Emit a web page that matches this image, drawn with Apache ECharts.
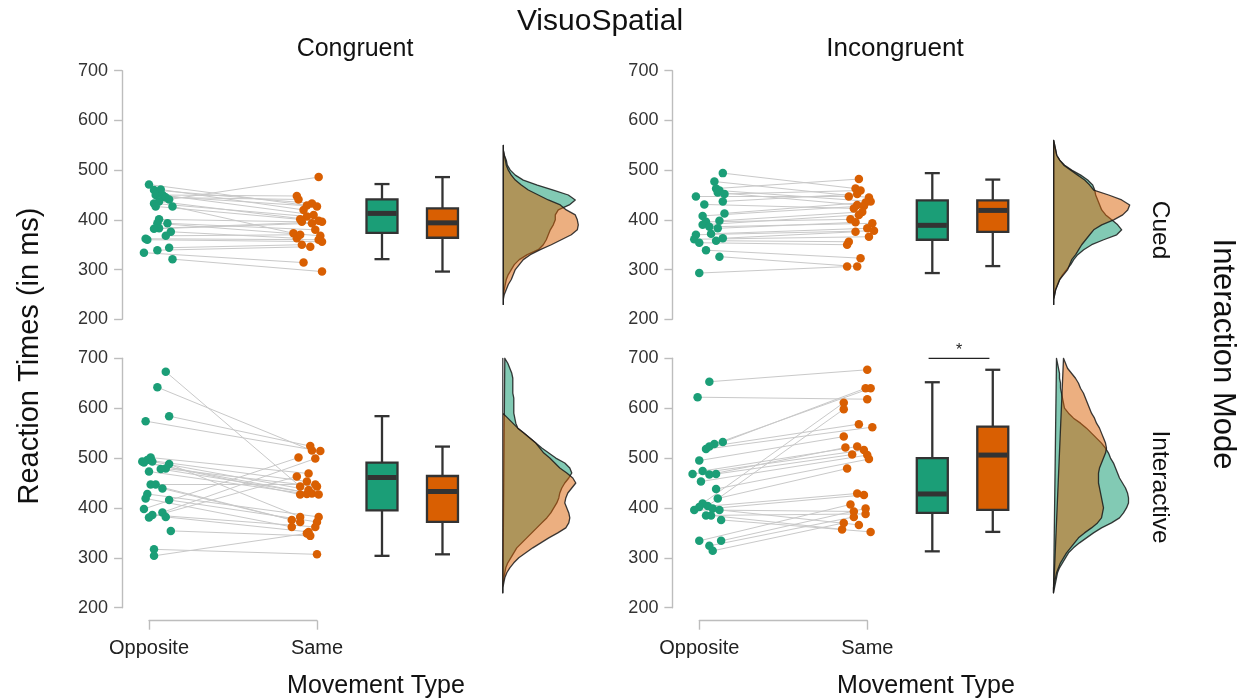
<!DOCTYPE html>
<html><head><meta charset="utf-8">
<script src="https://cdn.jsdelivr.net/npm/echarts/dist/echarts.min.js"></script>
<style>html,body{margin:0;padding:0;background:#fff}#c{width:1246px;height:699px}</style>
</head><body><div id="c"></div>
<script>
// ---------- DATA ----------
const categories = ['Opposite', 'Same'];
const conditions = ['Congruent', 'Incongruent'];
const modes = ['Cued', 'Interactive'];

// Congruent / Cued (paired: index k = same participant)
const ccOppRT = [471,461,460,450,450,447,445,441,437,433,427,427,401,393,393,383,382,376,368,362,360,344,339,334,321];
const ccOppX  = [1.00,1.07,1.03,1.04,1.08,1.09,1.10,1.12,1.06,1.03,1.04,1.14,1.06,1.05,1.11,1.06,1.03,1.13,1.10,0.98,0.99,1.12,1.05,0.97,1.14];
const ccSameRT = [429,420,433,448,410,427,441,486,398,407,401,373,396,368,380,396,393,363,370,360,356,350,346,314,296];
const ccSameX  = [1.94,1.92,1.97,1.88,1.98,2.00,1.89,2.01,2.01,1.94,1.90,1.86,1.91,2.02,1.99,2.03,1.97,1.88,1.90,2.01,2.03,1.91,1.96,1.92,2.03];

// Incongruent / Cued
const icOppRT = [494,477,463,459,455,452,447,437,431,413,408,398,396,390,386,383,372,370,363,361,358,354,339,326,293];
const icOppX  = [1.14,1.09,1.10,1.12,1.11,1.15,0.98,1.14,1.03,1.15,1.02,1.12,1.04,1.02,1.06,1.11,1.07,0.98,1.14,0.97,1.10,1.00,1.04,1.12,1.00];
const icSameRT = [463,445,482,437,430,459,447,452,423,435,428,416,401,410,393,395,383,378,376,366,356,350,323,306,306];
const icSameX  = [1.93,2.01,1.95,2.02,1.94,1.96,1.89,1.94,1.92,1.99,1.98,1.97,1.90,1.95,2.03,1.93,2.00,2.04,1.93,2.01,1.89,1.88,1.96,1.94,1.88];

// Congruent / Interactive
const ciOppRT = [673,642,584,574,501,496,493,493,491,488,479,478,473,447,447,439,428,419,416,398,391,386,382,381,354,317,304];
const ciOppX  = [1.10,1.05,1.12,0.98,1.01,0.99,1.02,0.96,0.97,1.12,1.10,1.07,1.00,1.01,1.04,1.08,0.99,0.98,1.12,0.97,1.08,1.02,1.10,1.00,1.13,1.03,1.03];
const ciSameRT = [443,515,524,514,469,453,436,427,429,382,443,427,428,372,447,376,382,362,372,501,499,362,352,463,344,307,349];
const ciSameX  = [1.90,1.97,1.96,2.02,1.95,1.94,1.95,1.90,1.97,1.90,2.00,2.01,1.94,1.90,1.99,1.85,2.01,1.85,2.00,1.89,1.99,1.99,1.95,1.88,1.96,2.00,1.94];

// Incongruent / Interactive
const iiOppRT = [653,622,532,528,523,518,495,474,468,467,468,453,438,419,409,404,402,399,396,396,385,385,376,334,334,324,314];
const iiOppX  = [1.06,0.99,1.14,1.09,1.06,1.04,1.00,1.02,0.96,1.06,1.10,1.01,1.10,1.11,1.02,1.05,1.00,1.08,0.97,1.12,1.04,1.07,1.13,1.00,1.13,1.06,1.08];
const iiSameRT = [677,618,640,640,568,562,543,523,516,521,507,506,498,479,611,598,429,426,393,366,388,357,352,407,399,382,370];
const iiSameX  = [2.00,2.00,1.99,2.02,1.95,2.03,1.86,1.94,1.98,1.87,1.91,2.00,2.01,1.88,1.86,1.86,1.94,1.98,1.92,1.95,1.99,1.85,2.02,1.90,1.99,1.92,1.86];

// Box statistics [min, Q1, median, Q3, max]
const ccBoxOpp = [321,374,413,441,472], ccBoxSame = [296,364,394,423,486];
const icBoxOpp = [293,360,389,439,494], icBoxSame = [307,376,419,439,481];
const ciBoxOpp = [304,395,461,491,584], ciBoxSame = [307,372,433,464,523];
const iiBoxOpp = [313,390,428,500,652], iiBoxSame = [352,396,506,563,677];

// Density profiles (relative density at each RT level)
const ccDensRT   = [230,240,250,260,270,280,290,300,310,320,330,340,350,360,370,380,390,400,410,420,430,440,450,460,470,480,490,500,510,520,530,540,550];
const ccDensOpp  = [0,0,0,1,2,3,5,8,11,16,24,35,40,43,45,47,50,52,52,55,66,72,65,50,34,20,12,7,4,3,1,0,0];
const ccDensSame = [0,0,1,3,5,8,10,12,16,20,27,37,48,58,68,74,75,74,72,63,57,45,35,25,18,12,8,5,3,2,1,0,0];

const icDensRT   = [230,240,250,260,270,280,290,300,310,320,330,340,350,360,370,380,390,400,410,420,430,440,450,460,470,480,490,500,510,520,530,540,550,560];
const icDensOpp  = [0,0,1,2,4,6,9,13,17,20,24,30,38,50,63,68,64,58,52,48,46,44,42,41,39,34,27,18,11,6,3,2,1,0];
const icDensSame = [0,0,1,2,4,6,10,14,16,18,22,25,28,32,36,40,48,60,69,74,76,68,55,40,36,31,24,17,10,6,3,2,1,0];

const ciDensRT   = [230,240,250,260,270,280,290,300,310,320,330,340,350,360,370,380,390,400,410,420,430,440,450,460,470,480,490,500,510,520,530,540,550,560,570,580,590,600,610,620,630,640,650,660,670,680,690,700];
const ciDensOpp  = [0,0,0,1,2,3,5,8,11,14,19,24,29,34,39,44,48,51,54,56,57,59,62,66,69,67,62,53,46,39,33,27,21,15,13,12,11,11,11,11,10,10,10,10,9,7,5,2];
const ciDensSame = [0,0,1,2,4,7,11,16,23,30,38,46,55,63,66,67,66,64,62,63,65,69,73,70,64,57,52,47,41,37,33,27,21,15,10,5,0,0,0,0,0,0,0,0,0,0,0,0];

const iiDensRT   = [230,240,250,260,270,280,290,300,310,320,330,340,350,360,370,380,390,400,410,420,430,440,450,460,470,480,490,500,510,520,530,540,550,560,570,580,590,600,610,620,630,640,650,660,670,680,690,700];
const iiDensOpp  = [0,1,2,3,4,6,9,12,15,20,26,33,40,48,58,66,70,73,75,75,74,72,69,66,64,62,60,57,55,52,48,43,38,33,27,20,15,11,10,9,8,7,7,6,6,5,4,3];
const iiDensSame = [0,0,1,2,3,5,7,10,13,17,21,25,31,38,44,48,49,50,49,48,47,46,45,45,45,46,48,50,52,53,52,50,48,46,43,41,38,36,34,32,30,27,25,22,18,14,12,10];

const yTicks = [200,300,400,500,600,700];

// ---------- CHART ----------
const GREEN = '#1b9e77', ORANGE = '#d95f02';
const FONT = 'Liberation Sans, Arial, Helvetica, sans-serif';
const AXIS_GRAY = '#bdbdbd';
const X_MIN = 0.84, X_MAX = 3.0, PX_PER_UNIT = 168;
const BOX_POS = [2.387, 2.747];

const panels = [
  {opp:ccOppRT, oppX:ccOppX, same:ccSameRT, sameX:ccSameX, boxOpp:ccBoxOpp, boxSame:ccBoxSame, dRT:ccDensRT, dOpp:ccDensOpp, dSame:ccDensSame,
   left:122.1, top:70.7, height:248.6, dleft:503.3},
  {opp:icOppRT, oppX:icOppX, same:icSameRT, sameX:icSameX, boxOpp:icBoxOpp, boxSame:icBoxSame, dRT:icDensRT, dOpp:icDensOpp, dSame:icDensSame,
   left:672.4, top:70.7, height:248.6, dleft:1053.7},
  {opp:ciOppRT, oppX:ciOppX, same:ciSameRT, sameX:ciSameX, boxOpp:ciBoxOpp, boxSame:ciBoxSame, dRT:ciDensRT, dOpp:ciDensOpp, dSame:ciDensSame,
   left:122.1, top:358.3, height:249.4, dleft:502.8},
  {opp:iiOppRT, oppX:iiOppX, same:iiSameRT, sameX:iiSameX, boxOpp:iiBoxOpp, boxSame:iiBoxSame, dRT:iiDensRT, dOpp:iiDensOpp, dSame:iiDensSame,
   left:672.4, top:358.3, height:249.4, dleft:1053.5}
];

const grid = [], xAxis = [], yAxis = [], series = [];

panels.forEach((p, i) => {
  grid.push({left:p.left, top:p.top, width:(X_MAX - X_MIN) * PX_PER_UNIT, height:p.height, outerBoundsMode:'none', containLabel:false});
  xAxis.push({gridIndex:i, type:'value', min:X_MIN, max:X_MAX, show:false});
  yAxis.push({gridIndex:i, type:'value', min:yTicks[0], max:yTicks[yTicks.length-1], interval:100,
    axisLine:{show:true, lineStyle:{color:AXIS_GRAY, width:1.4}},
    axisTick:{show:true, length:8, lineStyle:{color:AXIS_GRAY, width:1.4}},
    axisLabel:{color:'#333', fontSize:18, fontFamily:FONT, margin:14},
    splitLine:{show:false}});
});
panels.forEach((p, i) => {
  grid.push({left:p.dleft, top:p.top, width:100, height:p.height, outerBoundsMode:'none', containLabel:false});
  xAxis.push({gridIndex:4+i, type:'value', min:0, max:100, show:false});
  yAxis.push({gridIndex:4+i, type:'value', min:200, max:700, show:false});
});
// bottom category axes (brackets)
[[149, 8], [699.3, 9]].forEach(([l, gi]) => {
  grid.push({left:l, top:600, width:168, height:20.7, outerBoundsMode:'none', containLabel:false});
  xAxis.push({gridIndex:gi, type:'category', data:categories, boundaryGap:false,
    axisLine:{show:true, lineStyle:{color:AXIS_GRAY, width:1.4}},
    axisTick:{show:true, length:9, inside:false, lineStyle:{color:AXIS_GRAY, width:1.4}},
    axisLabel:{color:'#222', fontSize:20, fontFamily:FONT, margin:18, interval:0},
    splitLine:{show:false}});
  yAxis.push({gridIndex:gi, type:'value', show:false});
});

function boxRender(params, api) {
  const x = api.value(0);
  const c = v => api.coord([x, v]);
  const pMin = c(api.value(1)), pQ1 = c(api.value(2)), pMed = c(api.value(3)), pQ3 = c(api.value(4)), pMax = c(api.value(5));
  const cx = pMin[0], hw = 15.5, cap = 7.5;
  const col = params.dataIndex === 0 ? GREEN : ORANGE;
  const st = {stroke:'#333', lineWidth:2.3};
  return {type:'group', children:[
    {type:'line', shape:{x1:cx, y1:pMax[1], x2:cx, y2:pQ3[1]}, style:st},
    {type:'line', shape:{x1:cx, y1:pQ1[1], x2:cx, y2:pMin[1]}, style:st},
    {type:'line', shape:{x1:cx-cap, y1:pMax[1], x2:cx+cap, y2:pMax[1]}, style:st},
    {type:'line', shape:{x1:cx-cap, y1:pMin[1], x2:cx+cap, y2:pMin[1]}, style:st},
    {type:'rect', shape:{x:cx-hw, y:pQ3[1], width:2*hw, height:pQ1[1]-pQ3[1]}, style:{fill:col, stroke:'#333', lineWidth:2.3}},
    {type:'line', shape:{x1:cx-hw+1, y1:pMed[1], x2:cx+hw-1, y2:pMed[1]}, style:{stroke:'#333', lineWidth:5}}
  ]};
}

function densitySeries(gi, rt, dens, fill, z) {
  return {type:'custom', coordinateSystem:'cartesian2d', xAxisIndex:gi, yAxisIndex:gi, z:z, silent:true,
    data: rt.map((v, k) => [dens[k], v]), encode:{x:0, y:1},
    renderItem: (params, api) => {
      if (params.dataIndex !== 0) return null;
      const pts = rt.map((v, k) => api.coord([dens[k], v]));
      return {type:'polygon', shape:{points:pts}, style:{fill:fill, stroke:'rgba(25,25,25,0.85)', lineWidth:1.3, lineJoin:'round'}};
    }};
}

panels.forEach((p, i) => {
  series.push({type:'custom', coordinateSystem:'cartesian2d', xAxisIndex:i, yAxisIndex:i, z:1, silent:true,
    data: p.opp.map((v, k) => [p.oppX[k], v, p.sameX[k], p.same[k]]), encode:{x:[0,2], y:[1,3]},
    renderItem: (params, api) => {
      const a = api.coord([api.value(0), api.value(1)]), b = api.coord([api.value(2), api.value(3)]);
      return {type:'line', shape:{x1:a[0], y1:a[1], x2:b[0], y2:b[1]}, style:{stroke:'#c9c9c9', lineWidth:1}};
    }});
  series.push({type:'scatter', xAxisIndex:i, yAxisIndex:i, z:3, symbolSize:8.5, itemStyle:{color:GREEN, opacity:1},
    data: p.opp.map((v, k) => [p.oppX[k], v])});
  series.push({type:'scatter', xAxisIndex:i, yAxisIndex:i, z:3, symbolSize:8.5, itemStyle:{color:ORANGE, opacity:1},
    data: p.same.map((v, k) => [p.sameX[k], v])});
  series.push({type:'custom', coordinateSystem:'cartesian2d', xAxisIndex:i, yAxisIndex:i, z:4, silent:true,
    data: [[BOX_POS[0]].concat(p.boxOpp), [BOX_POS[1]].concat(p.boxSame)], encode:{x:0, y:[1,2,3,4,5]},
    renderItem: boxRender});
  series.push(densitySeries(4+i, p.dRT, p.dOpp, 'rgba(27,158,119,0.55)', 2));
  series.push(densitySeries(4+i, p.dRT, p.dSame, 'rgba(217,95,2,0.5)', 3));
});

// significance bar (Incongruent / Interactive)
series.push({type:'custom', coordinateSystem:'cartesian2d', xAxisIndex:3, yAxisIndex:3, z:5, silent:true,
  data:[[2.365, 2.727, 700]], encode:{x:[0,1], y:2},
  renderItem: (params, api) => {
    const a = api.coord([api.value(0), api.value(2)]), b = api.coord([api.value(1), api.value(2)]);
    return {type:'group', children:[
      {type:'line', shape:{x1:a[0], y1:a[1], x2:b[0], y2:b[1]}, style:{stroke:'#222', lineWidth:1.2}},
      {type:'text', x:(a[0]+b[0])/2, y:a[1]-8, style:{text:'*', fontSize:16, fontFamily:FONT, fill:'#222', align:'center', verticalAlign:'middle'}}
    ]};
  }});

const T = (text, x, y, size, rot) => ({type:'text', x:x, y:y, rotation:rot || 0,
  style:{text:text, fontSize:size, fontFamily:FONT, fill:'#111', align:'center', verticalAlign:'middle'}});

const option = {
  animation:false,
  backgroundColor:'#fff',
  grid, xAxis, yAxis, series,
  graphic:[
    T('VisuoSpatial', 600, 22, 30),
    T(conditions[0], 355, 49, 25),
    T(conditions[1], 895, 49, 26),
    T('Reaction Times (in ms)', 30, 356, 29, Math.PI/2),
    T('Interaction Mode', 1223, 354, 31, -Math.PI/2),
    T(modes[0], 1160, 230, 24.5, -Math.PI/2),
    T(modes[1], 1160, 487, 24.5, -Math.PI/2),
    T('Movement Type', 376, 686, 25),
    T('Movement Type', 926, 686, 25)
  ]
};
const chart = echarts.init(document.getElementById('c'));
chart.setOption(option);
</script></body></html>
